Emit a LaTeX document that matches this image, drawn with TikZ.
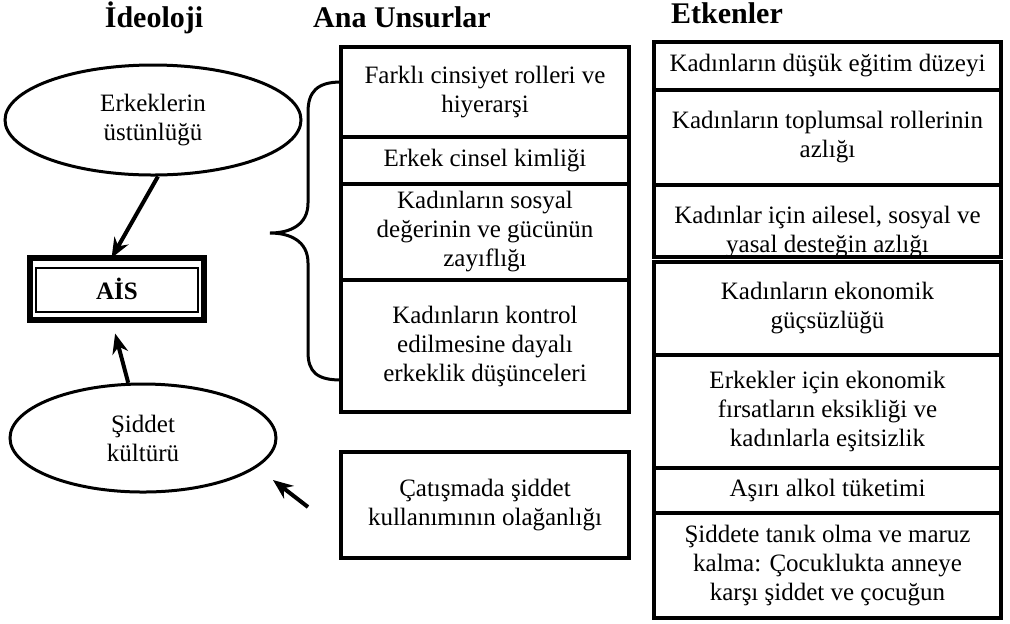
\documentclass[tikz,border=0pt]{standalone}
\usepackage{fontspec}
\setmainfont{Liberation Serif}
\usetikzlibrary{positioning,shapes.geometric,arrows.meta}

\tikzset{
  txt/.style={font=\fontsize{12.5}{14.5}\selectfont, align=center},
  box/.style={txt, draw, line width=1.6pt, rectangle, outer sep=0pt, inner sep=2pt},
  ubox/.style={box, minimum width=144pt},
  ebox/.style={box, minimum width=173.5pt},
  oval/.style={txt, draw, ellipse, line width=1.5pt},
  head/.style={font=\fontsize{15}{17}\selectfont\bfseries, anchor=base},
  arr/.style={line width=2pt, -{Stealth[length=10pt,width=8pt]}},
}

\begin{document}
\begin{tikzpicture}[x=0.5pt,y=-0.5pt]
\useasboundingbox (0,0) rectangle (1010,623);
% column heads
\node[head] (h1) at (154,27) {İdeoloji};
\node[head] (h2) at (402,27) {Ana Unsurlar};
\node[head] (h3) at (727,23) {Etkenler};

% ideology
\node[oval, minimum width=148pt, minimum height=55pt] (s1) at (153,120) {Erkeklerin\\üstünlüğü};
\node[oval, minimum width=133pt, minimum height=54pt] (s2) at (143,438) {Şiddet\\kültürü};
\node[draw, line width=3pt, outer sep=0pt, minimum width=87pt, minimum height=31pt,
      font=\fontsize{12.5}{14.5}\selectfont\bfseries] (ais) at (117,289) {AİS};
\draw[line width=1pt] ([shift={(6,9.5)}]ais.north west) rectangle ([shift={(-6,-8.5)}]ais.south east);

% main elements
\node[ubox, minimum height=45pt, anchor=north west] (u1) at (341,47) {Farklı cinsiyet rolleri ve\\hiyerarşi};
\node[ubox, minimum height=23.5pt, below=0pt of u1] (u2) {Erkek cinsel kimliği};
\node[ubox, minimum height=48pt, below=0pt of u2] (u3) {Kadınların sosyal\\değerinin ve gücünün\\zayıflığı};
\node[ubox, minimum height=66pt, below=0pt of u3] (u4) {Kadınların kontrol\\edilmesine dayalı\\erkeklik düşünceleri};
\node[ubox, minimum height=53pt, anchor=north west] (u5) at (341,452) {Çatışmada şiddet\\kullanımının olağanlığı};

\draw[line width=1.5pt] (341,82) .. controls (317,82) and (308,92) .. (308,112) -- (308,203)
  .. controls (308,225) and (290,233) .. (270,233) .. controls (290,233) and (308,241) .. (308,263)
  -- (308,352) .. controls (308,372) and (317,380) .. (341,380);

% factors
\node[ebox, minimum height=24pt, anchor=north west] (e1) at (654,42) {Kadınların düşük eğitim düzeyi};
\node[ebox, minimum height=47.5pt, below=0pt of e1] (e2) {Kadınların toplumsal rollerinin\\azlığı};
\node[ebox, minimum height=36pt, below=0pt of e2] (e3) {};
\begin{scope}
  \clip (e3.north west) rectangle ([shift={(0,-3)}]e3.south east);
  \node[txt, inner sep=0pt, anchor=north] (e3t) at ([shift={(0,21)}]e3.north) {Kadınlar için ailesel, sosyal ve\\yasal desteğin azlığı};
\end{scope}
\node[ebox, minimum height=46.5pt, anchor=north west] (e4) at (654,262) {Kadınların ekonomik\\güçsüzlüğü};
\node[ebox, minimum height=56.5pt, below=0pt of e4] (e5) {Erkekler için ekonomik\\fırsatların eksikliği ve\\kadınlarla eşitsizlik};
\node[ebox, minimum height=22.5pt, below=0pt of e5] (e6) {Aşırı alkol tüketimi};
\node[ebox, minimum height=52.5pt, below=0pt of e6] (e7) {Şiddete tanık olma ve maruz\\kalma: Çocuklukta anneye\\karşı şiddet ve çocuğun};

% arrows
\draw[arr] (s1.-85) -- (ais.100);
\draw[arr, shorten >=7pt] (s2.105) -- (ais.260);
\coordinate (c3a) at (308,507);
\coordinate (c3b) at (273,480);
\draw[arr] (c3a) -- (c3b);
\end{tikzpicture}
\end{document}
